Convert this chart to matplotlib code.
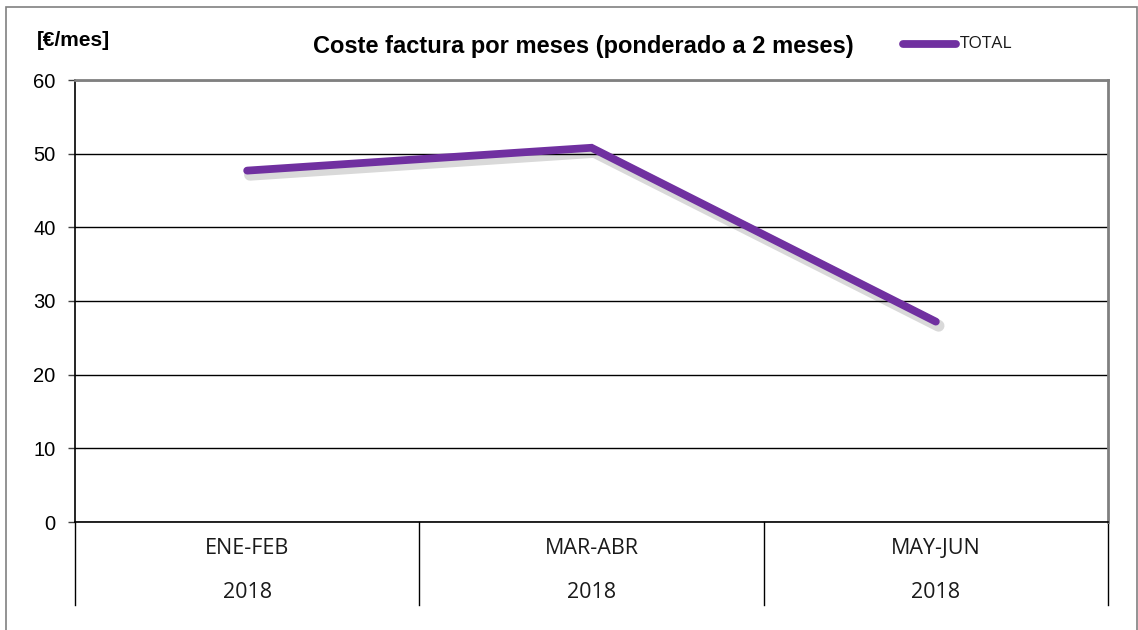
import matplotlib
matplotlib.use("Agg")
import matplotlib.pyplot as plt
import matplotlib.patheffects as pe
from matplotlib.patches import Rectangle
from matplotlib.lines import Line2D
import matplotlib.transforms as mtransforms

periods = ["ENE-FEB", "MAR-ABR", "MAY-JUN"]
years = ["2018", "2018", "2018"]
total = [47.7, 50.8, 27.2]
yticks = [0, 10, 20, 30, 40, 50, 60]

W, H = 1138, 630
fig = plt.figure(figsize=(W / 100, H / 100), dpi=100)
fig.patch.set_facecolor("white")

# outer chart border
fig.add_artist(Rectangle((6 / W, -0.01), (1137 - 6) / W, (H - 7) / H + 0.01,
                         transform=fig.transFigure, fill=False,
                         edgecolor="#808080", linewidth=1.2))

ax = fig.add_axes([75 / W, (H - 522) / H, (1108 - 75) / W, (522 - 80) / H])
x = list(range(len(periods)))
purple = "#7030A0"
ax.plot(x, total, color=purple, linewidth=5.6, solid_capstyle="round",
        solid_joinstyle="miter", zorder=5,
        path_effects=[pe.SimpleLineShadow(offset=(2, -3), shadow_color="#000000",
                                          alpha=0.15, linewidth=8.5),
                      pe.Normal()])

ax.set_xlim(-0.5, len(periods) - 0.5)
ax.set_ylim(0, 60)
ax.set_yticks(yticks)
ax.yaxis.grid(True, color="black", linewidth=1)
ax.set_axisbelow(True)
ax.tick_params(axis="y", direction="out", length=5, width=1, color="#404040",
               labelsize=14.5, pad=9)
for lab in ax.get_yticklabels():
    lab.set_fontfamily("Liberation Sans")
ax.set_xticks([])

for s in ["top", "right"]:
    ax.spines[s].set_color("#808080")
    ax.spines[s].set_linewidth(2)
ax.spines["left"].set_color("black")
ax.spines["left"].set_linewidth(1.2)
ax.spines["bottom"].set_color("black")
ax.spines["bottom"].set_linewidth(1.2)

# category axis table
trans = mtransforms.blended_transform_factory(ax.transData, ax.transAxes)
depth = (605 - 522) / (522 - 80)
for b in [i - 0.5 for i in range(len(periods) + 1)]:
    ax.add_line(Line2D([b, b], [0, -depth], transform=trans, color="black",
                       linewidth=1, clip_on=False))
for i, (p, yr) in enumerate(zip(periods, years)):
    ax.text(i, -(548 - 522) / (522 - 80), p, transform=trans, ha="center",
            va="center", fontsize=15.5, family="Open Sans", color="#1a1a1a")
    ax.text(i, -(592 - 522) / (522 - 80), yr, transform=trans, ha="center",
            va="center", fontsize=15.5, family="Open Sans", color="#1a1a1a")

fig.text(583 / W, 1 - 47 / H, "Coste factura por meses (ponderado a 2 meses)",
         ha="center", va="center", fontsize=17, fontweight="bold",
         family="Liberation Sans")
fig.text(37 / W, 1 - 41 / H, "[€/mes]", ha="left", va="center", fontsize=15,
         fontweight="bold", family="Liberation Sans")

# legend
fig.add_artist(Line2D([903 / W, 956 / W], [1 - 44 / H, 1 - 44 / H],
                      transform=fig.transFigure, color=purple, linewidth=5.6,
                      solid_capstyle="round"))
fig.text(960 / W, 1 - 44 / H, "TOTAL", ha="left", va="center", fontsize=12.5,
         family="Open Sans", color="#1a1a1a")

fig.savefig("out.png", dpi=100)
